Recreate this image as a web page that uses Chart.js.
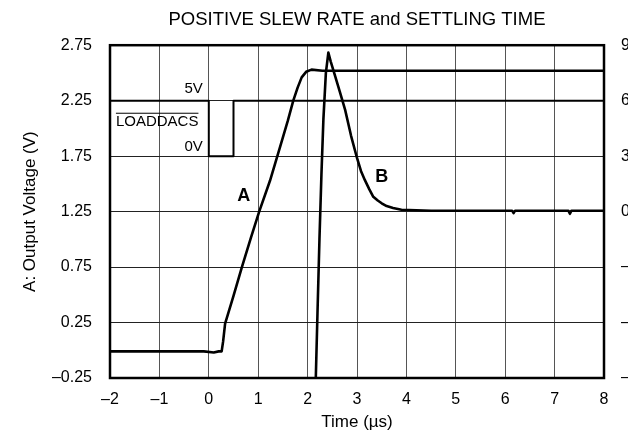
<!DOCTYPE html>
<html>
<head>
<meta charset="utf-8">
<title>Positive Slew Rate and Settling Time</title>
<script src="https://cdn.jsdelivr.net/npm/chart.js@4.4.1/dist/chart.umd.min.js"></script>
<style>
  html, body { margin: 0; padding: 0; background: #fff; overflow: hidden; }
  #wrap { width: 628px; height: 441px; }
</style>
</head>
<body>
<div id="wrap"><canvas id="slewChart" width="628" height="441"></canvas></div>
<script>
// ==========================================
// Data
// ==========================================

// Trace A: output voltage (V), left axis
const timeA = [-2, -1.2, -0.6, -0.1, 0.1, 0.2, 0.26, 0.29, 0.33, 0.5, 0.67, 0.85, 1.02, 1.24, 1.44, 1.6, 1.71, 1.8, 1.88, 1.97, 2.08, 2.3, 3, 4, 5, 6, 7, 8];
const voltsA = [-0.01, -0.01, -0.01, -0.01, -0.02, -0.01, -0.01, 0.08, 0.24, 0.49, 0.75, 1.01, 1.25, 1.53, 1.83, 2.07, 2.25, 2.37, 2.46, 2.51, 2.53, 2.52, 2.52, 2.52, 2.52, 2.52, 2.52, 2.52];

// Trace B: settling error, right axis
const timeB = [2.16, 2.20, 2.24, 2.28, 2.32, 2.37, 2.42, 2.47, 2.55, 2.65, 2.76, 2.88, 3.0, 3.08, 3.16, 3.25, 3.33, 3.42, 3.5, 3.6, 3.73, 3.9, 4.5, 5.5, 6.14, 6.17, 6.20, 7.28, 7.31, 7.34, 8];
const errorB = [-9.6, -5.5, -1.5, 2.0, 5.0, 7.5, 8.6, 8.1, 7.4, 6.5, 5.5, 4.1, 2.9, 2.2, 1.7, 1.2, 0.8, 0.6, 0.45, 0.3, 0.2, 0.1, 0.05, 0.05, 0.05, -0.08, 0.05, 0.05, -0.12, 0.05, 0.05];

// LOADDACS strobe, drawn against the left axis
const timeLoad = [-2, 0, 0, 0.5, 0.5, 8];
const levelLoad = [2.25, 2.25, 1.75, 1.75, 2.25, 2.25];

// Axis ticks
const timeTicks = [-2, -1, 0, 1, 2, 3, 4, 5, 6, 7, 8];
const voltTicks = [-0.25, 0.25, 0.75, 1.25, 1.75, 2.25, 2.75];
const errorTicks = [-9, -6, -3, 0, 3, 6, 9];

// ==========================================
// Helpers
// ==========================================
const FONT = '"Liberation Sans", Arial, Helvetica, sans-serif';
const dash = (v) => String(v).replace('-', '\u2013');
const toPoints = (xs, ys) => xs.map((t, i) => ({ x: t, y: ys[i] }));
const fixedTicks = (list) => (scale) => { scale.ticks = list.map(v => ({ value: v })); };

// Trace names and strobe levels, placed in data units
const notes = [
  { text: 'A', x: 0.71, y: 1.39, align: 'center', font: 'bold 18px ' + FONT },
  { text: 'B', x: 3.50, y: 1.56, align: 'center', font: 'bold 18px ' + FONT },
  { text: '5V', x: -0.12, y: 2.36, align: 'right', font: '15px ' + FONT },
  { text: '0V', x: -0.12, y: 1.83, align: 'right', font: '15px ' + FONT },
  { text: 'LOADDACS', x: -1.88, y: 2.06, align: 'left', font: '15px ' + FONT, overline: true }
];

const notesPlugin = {
  id: 'notes',
  afterDatasetsDraw(chart) {
    const { ctx, scales: { x, y } } = chart;
    ctx.save();
    ctx.fillStyle = '#000';
    ctx.strokeStyle = '#000';
    ctx.textBaseline = 'middle';
    notes.forEach(n => {
      const px = x.getPixelForValue(n.x);
      const py = y.getPixelForValue(n.y);
      ctx.font = n.font;
      ctx.textAlign = n.align;
      ctx.fillText(n.text, px, py);
      if (n.overline) {
        const w = ctx.measureText(n.text).width;
        ctx.lineWidth = 1;
        ctx.beginPath();
        ctx.moveTo(px, py - 8.5);
        ctx.lineTo(px + w, py - 8.5);
        ctx.stroke();
      }
    });
    ctx.restore();
  }
};

// Heavy box round the plot area
const framePlugin = {
  id: 'frame',
  afterDatasetsDraw(chart) {
    const { ctx, chartArea: a } = chart;
    ctx.save();
    ctx.strokeStyle = '#000';
    ctx.lineWidth = 2.5;
    ctx.strokeRect(a.left, a.top, a.right - a.left, a.bottom - a.top);
    ctx.restore();
  }
};

// ==========================================
// Chart
// ==========================================
Chart.defaults.font.family = FONT;
Chart.defaults.color = '#000';

new Chart(document.getElementById('slewChart'), {
  type: 'line',
  data: {
    datasets: [
      {
        label: 'LOADDACS',
        data: toPoints(timeLoad, levelLoad),
        borderColor: '#000',
        borderWidth: 2,
        yAxisID: 'y'
      },
      {
        label: 'A',
        data: toPoints(timeA, voltsA),
        borderColor: '#000',
        borderWidth: 2.6,
        yAxisID: 'y'
      },
      {
        label: 'B',
        data: toPoints(timeB, errorB),
        borderColor: '#000',
        borderWidth: 2.6,
        yAxisID: 'y2'
      }
    ]
  },
  options: {
    responsive: false,
    animation: false,
    events: [],
    layout: { padding: 0 },
    elements: {
      point: { radius: 0 },
      line: { tension: 0, borderJoinStyle: 'round', borderCapStyle: 'butt' }
    },
    datasets: { line: { clip: 0 } },
    plugins: {
      legend: { display: false },
      tooltip: { enabled: false },
      title: {
        display: true,
        fullSize: false,
        text: 'POSITIVE SLEW RATE and SETTLING TIME',
        color: '#000',
        font: { size: 18.5, weight: 'normal' },
        padding: { top: 9, bottom: 14 }
      }
    },
    scales: {
      x: {
        type: 'linear',
        min: -2,
        max: 8,
        afterBuildTicks: fixedTicks(timeTicks),
        afterFit: (s) => { s.height = 63; },
        grid: { color: '#555', lineWidth: 1, drawTicks: false },
        border: { display: false },
        ticks: { padding: 12, font: { size: 16 }, maxRotation: 0, autoSkip: false, callback: (v) => dash(v) },
        title: { display: true, text: 'Time (\u00b5s)', font: { size: 17 }, padding: { top: 0, bottom: 8 } }
      },
      y: {
        position: 'left',
        min: -0.25,
        max: 2.75,
        afterBuildTicks: fixedTicks(voltTicks),
        afterFit: (s) => { s.width = 110; },
        grid: { color: '#222', lineWidth: 1, drawTicks: false },
        border: { display: false },
        ticks: { padding: 18, font: { size: 16 }, callback: (v) => dash(v.toFixed(2)) },
        title: { display: true, text: 'A: Output Voltage (V)', font: { size: 17 }, padding: { top: 20, bottom: 0 } }
      },
      y2: {
        position: 'right',
        min: -9,
        max: 9,
        afterBuildTicks: fixedTicks(errorTicks),
        afterFit: (s) => { s.width = 24; },
        grid: { display: false, drawTicks: false },
        border: { display: false },
        ticks: { padding: 17, font: { size: 16 }, callback: (v) => dash(v) }
      }
    }
  },
  plugins: [notesPlugin, framePlugin]
});
</script>
</body>
</html>
